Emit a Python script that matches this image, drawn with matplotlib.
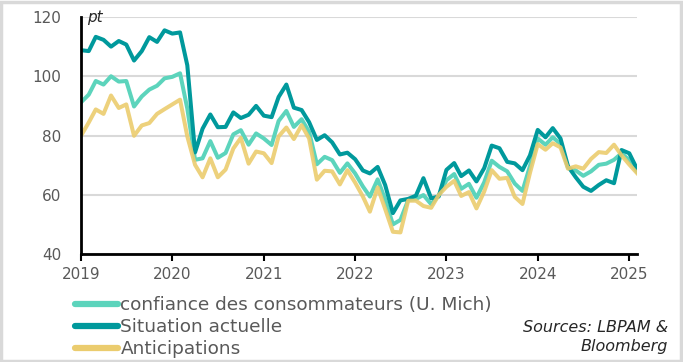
import numpy as np
import pandas as pd
import matplotlib
matplotlib.use('Agg')
import matplotlib.pyplot as plt
from matplotlib.patches import Rectangle

# ── données mensuelles (jan. 2019 -> fév. 2025) ───────────────
dates = pd.date_range('2019-01-01', periods=74, freq='MS')

sentiment = [91.2, 93.8, 98.4, 97.2, 100.0, 98.2, 98.4, 89.8, 93.2, 95.5, 96.8, 99.3,
             99.8, 101.0, 89.1, 71.8, 72.3, 78.1, 72.5, 74.1, 80.4, 81.8, 76.9, 80.7,
             79.0, 76.8, 84.9, 88.3, 82.9, 85.5, 81.2, 70.3, 72.8, 71.7, 67.4, 70.6,
             67.2, 62.8, 59.4, 65.2, 58.4, 50.0, 51.5, 58.2, 58.6, 59.9, 56.8, 59.7,
             64.9, 67.0, 62.0, 63.7, 59.0, 64.2, 71.5, 69.4, 67.9, 63.8, 61.3, 69.7,
             79.0, 76.9, 79.4, 77.2, 69.1, 68.2, 66.4, 67.9, 70.1, 70.5, 71.8, 74.0,
             71.7, 67.8]

current = [108.8, 108.5, 113.3, 112.3, 110.0, 111.9, 110.7, 105.3, 108.5, 113.2, 111.6, 115.5,
           114.4, 114.8, 103.7, 74.3, 82.3, 87.1, 82.8, 82.9, 87.8, 85.9, 87.0, 90.0,
           86.7, 86.2, 93.0, 97.2, 89.4, 88.6, 84.5, 78.5, 80.1, 77.7, 73.6, 74.2,
           72.0, 68.2, 67.2, 69.4, 63.3, 53.8, 58.1, 58.6, 59.7, 65.6, 58.8, 59.4,
           68.4, 70.7, 66.3, 68.2, 64.5, 69.0, 76.6, 75.7, 71.1, 70.6, 68.3, 73.3,
           81.9, 79.4, 82.5, 79.0, 69.6, 65.9, 62.7, 61.3, 63.3, 64.9, 63.9, 75.1,
           74.0, 68.7]

expectations = [79.9, 84.4, 88.8, 87.3, 93.5, 89.3, 90.5, 79.9, 83.4, 84.2, 87.3, 88.9,
                90.5, 92.1, 79.7, 70.1, 65.9, 72.3, 65.9, 68.5, 75.6, 79.2, 70.5, 74.6,
                74.0, 70.7, 79.7, 82.7, 78.8, 83.5, 79.0, 65.1, 68.1, 67.9, 63.5, 68.3,
                64.1, 59.4, 54.3, 62.5, 55.2, 47.5, 47.3, 58.0, 58.0, 56.2, 55.6, 59.9,
                62.7, 64.7, 59.6, 60.9, 55.4, 61.1, 68.3, 65.4, 65.7, 59.3, 56.9, 67.4,
                77.1, 75.2, 77.4, 76.0, 68.8, 69.6, 68.8, 72.1, 74.4, 74.1, 76.9, 73.3,
                70.2, 67.3]

labels = ['confiance des consommateurs (U. Mich)', 'Situation actuelle', 'Anticipations']
colors = ['#5CD4BC', '#00999C', '#EBCC6E']
years = [2019, 2020, 2021, 2022, 2023, 2024, 2025]
yticks = [40, 60, 80, 100, 120]

GREY = '#595959'

fig = plt.figure(figsize=(6.83, 3.62), dpi=100)
ax = fig.add_axes([0.1186, 0.2983, 0.8141, 0.6547])

ax.plot(dates, sentiment, color=colors[0], lw=2.9, label=labels[0], zorder=3)
ax.plot(dates, current, color=colors[1], lw=2.9, label=labels[1], zorder=4)
ax.plot(dates, expectations, color=colors[2], lw=2.9, alpha=0.9, label=labels[2], zorder=5)

ax.set_ylim(40, 120)
ax.set_xlim(dates[0], dates[-1])
ax.set_yticks(yticks)
ax.yaxis.grid(True, color='#D9D9D9', lw=1.5)
ax.set_axisbelow(True)
ax.tick_params(axis='y', length=0, pad=14, labelsize=11, labelcolor=GREY)

ax.set_xticks([pd.Timestamp(f'{y}-01-01') for y in years])
ax.set_xticklabels([str(y) for y in years])
ax.tick_params(axis='x', length=5, width=1.5, color='black', labelsize=11,
               labelcolor=GREY, pad=4)

for s in ['top', 'right']:
    ax.spines[s].set_visible(False)
for s in ['left', 'bottom']:
    ax.spines[s].set_linewidth(2)
    ax.spines[s].set_color('black')
    ax.spines[s].set_zorder(6)

ax.text(0.01, 1.0, 'pt', transform=ax.transAxes, style='italic', fontsize=11,
        color='#262626', va='center', ha='left')

leg = ax.legend(loc='upper left', bbox_to_anchor=(0.11, 0.181),
                bbox_transform=fig.transFigure, frameon=False, fontsize=13.3,
                handlelength=2.3, handletextpad=0.15, labelspacing=0.21,
                borderpad=0, borderaxespad=0)
for line in leg.get_lines():
    line.set_linewidth(4.5)
    line.set_solid_capstyle('round')
    line.set_alpha(1)
for t in leg.get_texts():
    t.set_color(GREY)

fig.text(0.978, 0.068, 'Sources: LBPAM &\nBloomberg', ha='right', va='center',
         style='italic', fontsize=11.5, color='#262626', linespacing=1.35)

fig.add_artist(Rectangle((0.002, 0.003), 0.995, 0.992, transform=fig.transFigure,
                         fill=False, edgecolor='#D9D9D9', lw=2.5))

fig.savefig('out.png', dpi=100)
